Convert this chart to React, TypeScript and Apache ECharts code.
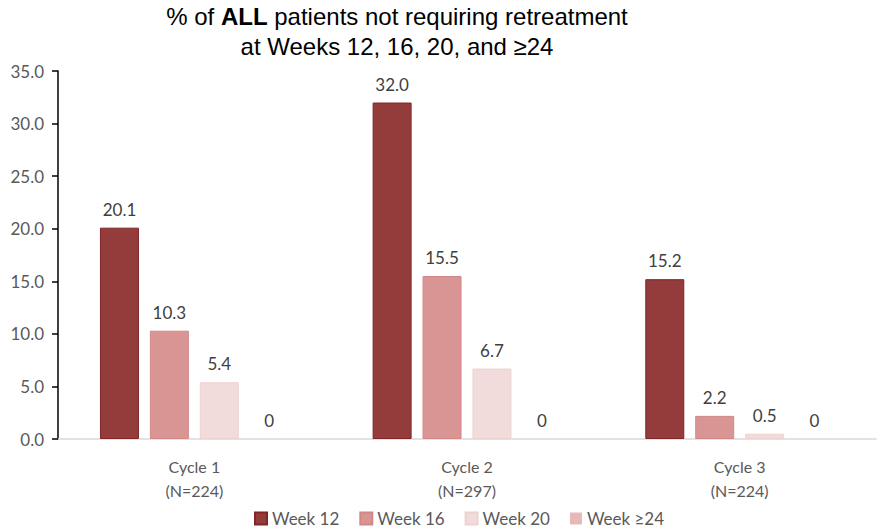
import React, { useEffect, useRef } from "react";
import * as echarts from "echarts";

const categories = ["Cycle 1\n(N=224)", "Cycle 2\n(N=297)", "Cycle 3\n(N=224)"];
const seriesNames = ["Week 12", "Week 16", "Week 20", "Week ≥24"];
const week12 = [20.1, 32.0, 15.2];
const week16 = [10.3, 15.5, 2.2];
const week20 = [5.4, 6.7, 0.5];
const week24 = [0, 0, 0];
const yTicks = { min: 0, max: 35, interval: 5 };

const fills = ["#943B3C", "#D99594", "#F2DCDB", "#E6B8B7"];
const borders = ["#7E2628", "#D28888", "#EDD2D1", "#E0AEAD"];

const titleFont = "Liberation Sans, Arial, sans-serif";

export default function App() {
  const ref = useRef<HTMLDivElement>(null);
  useEffect(() => {
    document.body.style.margin = "0";
    document.body.style.overflow = "hidden";
    if (!ref.current) return;
    const chart = echarts.init(ref.current, undefined, { renderer: "svg" });
    const data = [week12, week16, week20, week24];
    chart.setOption({
      animation: false,
      backgroundColor: "#ffffff",
      title: [
        {
          text: "{a|% of }{b|ALL}{a| patients not requiring retreatment}",
          left: 392,
          top: -1,
          textAlign: "center",
          textStyle: {
            fontWeight: "normal",
            fontSize: 24,
            rich: {
              a: { fontFamily: titleFont, fontSize: 24, fontWeight: "normal", color: "#000" },
              b: { fontFamily: titleFont, fontSize: 24, fontWeight: "bold", color: "#000" },
            },
          },
        },
        {
          text: "at Weeks 12, 16, 20, and ≥24",
          left: 392,
          top: 29,
          textAlign: "center",
          textStyle: { fontFamily: titleFont, fontSize: 24, fontWeight: "normal", color: "#000" },
        },
      ],
      legend: {
        data: seriesNames,
        left: 249,
        top: 505,
        icon: "rect",
        itemWidth: 12,
        itemHeight: 12,
        itemGap: 20,
        textStyle: { fontFamily: "Lato", fontSize: 17, color: "#595959" },
      },
      grid: { left: 58, right: 17, top: 71, bottom: 92 },
      xAxis: {
        type: "category",
        data: categories,
        axisLine: { show: true, lineStyle: { color: "#D9D9D9", width: 1.5 } },
        axisTick: { show: false },
        axisLabel: {
          fontFamily: "Lato",
          fontSize: 16,
          color: "#595959",
          lineHeight: 24,
          margin: 15,
        },
      },
      yAxis: {
        type: "value",
        min: yTicks.min,
        max: yTicks.max,
        interval: yTicks.interval,
        splitLine: { show: false },
        axisLine: { show: true, lineStyle: { color: "#000", width: 1.5 } },
        axisTick: { show: true, length: 6, lineStyle: { color: "#000", width: 1.5 } },
        axisLabel: {
          fontFamily: "Lato",
          fontSize: 17,
          color: "#595959",
          margin: 14,
          formatter: (v: number) => v.toFixed(1),
        },
      },
      series: seriesNames.map((name, i) => ({
        name,
        type: "bar",
        data: data[i],
        barWidth: 39,
        barGap: "28%",
        itemStyle: { color: fills[i], borderColor: borders[i], borderWidth: i === 3 ? 0 : 1 },
        label: {
          show: true,
          position: "top",
          distance: 10,
          fontFamily: "Lato",
          fontSize: 17,
          color: "#404040",
          formatter: (p: any) => (p.value === 0 ? "0" : Number(p.value).toFixed(1)),
        },
      })),
    });
    return () => chart.dispose();
  }, []);
  return <div ref={ref} style={{ width: 893, height: 531 }} />;
}
